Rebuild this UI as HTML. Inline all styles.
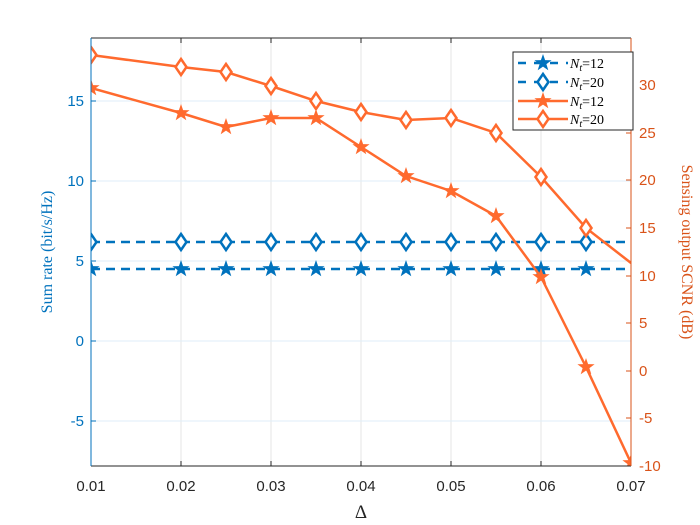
<!DOCTYPE html>
<html><head><meta charset="utf-8"><style>
html,body{margin:0;padding:0;background:#fff;}
svg{display:block;font-family:"Liberation Sans",sans-serif;}
</style></head><body>
<svg width="700" height="525" viewBox="0 0 700 525" xmlns="http://www.w3.org/2000/svg">
<defs>
<clipPath id="c"><rect x="91" y="38" width="540" height="428"/></clipPath>
<path id="star" d="M0,-9 L2.1,-2.9 L8.6,-2.8 L3.4,1.1 L5.3,7.3 L0,3.6 L-5.3,7.3 L-3.4,1.1 L-8.6,-2.8 L-2.1,-2.9Z"/>
<path id="dia" d="M0,-8 L5.5,0 L0,8 L-5.5,0Z"/>
</defs>
<rect width="700" height="525" fill="#fff"/>
<g stroke="#e6e6e6" stroke-width="1">
<line x1="181" y1="38" x2="181" y2="466"/><line x1="271" y1="38" x2="271" y2="466"/><line x1="361" y1="38" x2="361" y2="466"/><line x1="451" y1="38" x2="451" y2="466"/><line x1="541" y1="38" x2="541" y2="466"/>
</g>
<g stroke="#dfeef8" stroke-width="1">
<line x1="91" y1="101" x2="631" y2="101"/><line x1="91" y1="181" x2="631" y2="181"/><line x1="91" y1="261" x2="631" y2="261"/><line x1="91" y1="341" x2="631" y2="341"/><line x1="91" y1="421" x2="631" y2="421"/>
</g>
<g clip-path="url(#c)">
<g stroke="#0072BD" stroke-width="2.5" stroke-dasharray="9,6" fill="none">
<line x1="91" y1="242" x2="631" y2="242"/><line x1="91" y1="269" x2="631" y2="269"/>
</g>
<g fill="#0072BD">
<use href="#star" x="91" y="269"/><use href="#star" x="181" y="269"/><use href="#star" x="226" y="269"/><use href="#star" x="271" y="269"/><use href="#star" x="316" y="269"/><use href="#star" x="361" y="269"/><use href="#star" x="406" y="269"/><use href="#star" x="451" y="269"/><use href="#star" x="496" y="269"/><use href="#star" x="541" y="269"/><use href="#star" x="586" y="269"/>
</g>
<g fill="#fff" stroke="#0072BD" stroke-width="2.5">
<use href="#dia" x="91" y="242"/><use href="#dia" x="181" y="242"/><use href="#dia" x="226" y="242"/><use href="#dia" x="271" y="242"/><use href="#dia" x="316" y="242"/><use href="#dia" x="361" y="242"/><use href="#dia" x="406" y="242"/><use href="#dia" x="451" y="242"/><use href="#dia" x="496" y="242"/><use href="#dia" x="541" y="242"/><use href="#dia" x="586" y="242"/>
</g>
<polyline fill="none" stroke="#FF6A2E" stroke-width="2.5" points="91,55 181,67 226,72 271,86 316,101 361,112 406,120 451,118 496,133 541,177 586,228 631,263"/>
<polyline fill="none" stroke="#FF6A2E" stroke-width="2.5" points="91,88 181,113 226,127 271,118 316,118 361,147 406,176 451,191 496,216 541,277 586,367 631,463"/>
<g fill="#FF6A2E">
<use href="#star" x="91" y="88"/><use href="#star" x="181" y="113"/><use href="#star" x="226" y="127"/><use href="#star" x="271" y="118"/><use href="#star" x="316" y="118"/><use href="#star" x="361" y="147"/><use href="#star" x="406" y="176"/><use href="#star" x="451" y="191"/><use href="#star" x="496" y="216"/><use href="#star" x="541" y="277"/><use href="#star" x="586" y="367"/><use href="#star" x="631" y="463"/>
</g>
<g fill="#fff" stroke="#FF6A2E" stroke-width="2.5">
<use href="#dia" x="91" y="55"/><use href="#dia" x="181" y="67"/><use href="#dia" x="226" y="72"/><use href="#dia" x="271" y="86"/><use href="#dia" x="316" y="101"/><use href="#dia" x="361" y="112"/><use href="#dia" x="406" y="120"/><use href="#dia" x="451" y="118"/><use href="#dia" x="496" y="133"/><use href="#dia" x="541" y="177"/><use href="#dia" x="586" y="228"/>
</g>
</g>
<line x1="91" y1="38" x2="631" y2="38" stroke="#262626" stroke-width="1"/>
<line x1="91" y1="466" x2="631" y2="466" stroke="#262626" stroke-width="1"/>
<line x1="91" y1="38" x2="91" y2="466" stroke="#0072BD" stroke-width="1"/>
<line x1="631" y1="38" x2="631" y2="466" stroke="#D95319" stroke-width="1"/>
<g stroke="#262626">
<line x1="181" y1="466" x2="181" y2="461"/><line x1="271" y1="466" x2="271" y2="461"/><line x1="361" y1="466" x2="361" y2="461"/><line x1="451" y1="466" x2="451" y2="461"/><line x1="541" y1="466" x2="541" y2="461"/>
<line x1="181" y1="38" x2="181" y2="43"/><line x1="271" y1="38" x2="271" y2="43"/><line x1="361" y1="38" x2="361" y2="43"/><line x1="451" y1="38" x2="451" y2="43"/><line x1="541" y1="38" x2="541" y2="43"/>
</g>
<g stroke="#0072BD">
<line x1="91" y1="101" x2="96" y2="101"/><line x1="91" y1="181" x2="96" y2="181"/><line x1="91" y1="261" x2="96" y2="261"/><line x1="91" y1="341" x2="96" y2="341"/><line x1="91" y1="421" x2="96" y2="421"/>
</g>
<g stroke="#D95319">
<line x1="626" y1="85" x2="631" y2="85"/><line x1="626" y1="133" x2="631" y2="133"/><line x1="626" y1="180" x2="631" y2="180"/><line x1="626" y1="228" x2="631" y2="228"/><line x1="626" y1="276" x2="631" y2="276"/><line x1="626" y1="323" x2="631" y2="323"/><line x1="626" y1="371" x2="631" y2="371"/><line x1="626" y1="418" x2="631" y2="418"/>
</g>
<g font-size="15" fill="#262626" text-anchor="middle">
<text x="91" y="491">0.01</text><text x="181" y="491">0.02</text><text x="271" y="491">0.03</text><text x="361" y="491">0.04</text><text x="451" y="491">0.05</text><text x="541" y="491">0.06</text><text x="631" y="491">0.07</text>
</g>
<text x="361" y="518" font-size="19" fill="#262626" text-anchor="middle" font-family="Liberation Serif,serif">Δ</text>
<g font-size="15" fill="#0072BD" text-anchor="end">
<text x="84" y="106">15</text><text x="84" y="186">10</text><text x="84" y="266">5</text><text x="84" y="346">0</text><text x="84" y="426">-5</text>
</g>
<g font-size="15" fill="#D95319" text-anchor="start">
<text x="639" y="90">30</text><text x="639" y="138">25</text><text x="639" y="185">20</text><text x="639" y="233">15</text><text x="639" y="281">10</text><text x="639" y="328">5</text><text x="639" y="376">0</text><text x="639" y="423">-5</text><text x="639" y="471">-10</text>
</g>
<text transform="translate(52,252) rotate(-90)" font-size="16" fill="#0072BD" text-anchor="middle" font-family="Liberation Serif,serif">Sum rate (bit/s/Hz)</text>
<text transform="translate(682,252) rotate(90)" font-size="16" fill="#D95319" text-anchor="middle" font-family="Liberation Serif,serif">Sensing output SCNR (dB)</text>
<rect x="513" y="52" width="120" height="78" fill="#fff" stroke="#262626" stroke-width="1"/>
<g stroke-width="2.5" fill="none">
<line x1="518" y1="63" x2="568" y2="63" stroke="#0072BD" stroke-dasharray="8,8"/>
<line x1="518" y1="82" x2="568" y2="82" stroke="#0072BD" stroke-dasharray="8,8"/>
<line x1="518" y1="101" x2="568" y2="101" stroke="#FF6A2E"/>
<line x1="518" y1="119" x2="568" y2="119" stroke="#FF6A2E"/>
</g>
<use href="#star" x="543" y="63" fill="#0072BD"/>
<use href="#dia" x="543" y="82" fill="#fff" stroke="#0072BD" stroke-width="2.5"/>
<use href="#star" x="543" y="101" fill="#FF6A2E"/>
<use href="#dia" x="543" y="119" fill="#fff" stroke="#FF6A2E" stroke-width="2.5"/>
<g font-size="14" fill="#000" font-family="Liberation Serif,serif">
<text x="570" y="68"><tspan font-style="italic">N</tspan><tspan font-style="italic" font-size="10" dy="3">t</tspan><tspan dy="-3">=12</tspan></text>
<text x="570" y="87"><tspan font-style="italic">N</tspan><tspan font-style="italic" font-size="10" dy="3">t</tspan><tspan dy="-3">=20</tspan></text>
<text x="570" y="106"><tspan font-style="italic">N</tspan><tspan font-style="italic" font-size="10" dy="3">t</tspan><tspan dy="-3">=12</tspan></text>
<text x="570" y="124"><tspan font-style="italic">N</tspan><tspan font-style="italic" font-size="10" dy="3">t</tspan><tspan dy="-3">=20</tspan></text>
</g>
</svg>
</body></html>
